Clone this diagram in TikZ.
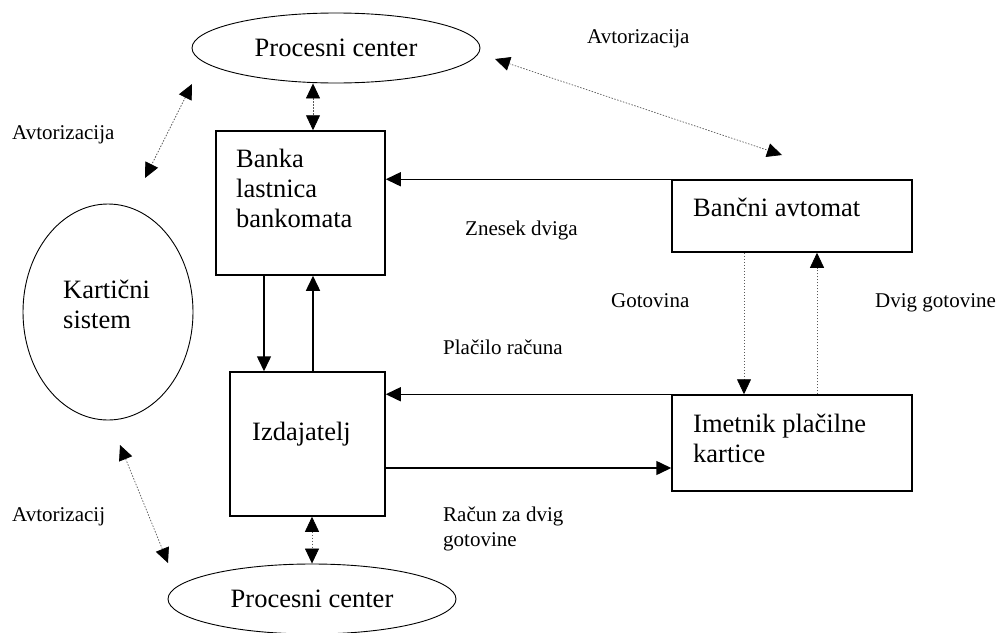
\documentclass[tikz,border=0pt]{standalone}
\usepackage{fontspec}
\setmainfont{Liberation Serif}
\usetikzlibrary{arrows.meta,shapes.geometric}
\begin{document}
\begin{tikzpicture}[x=1pt,y=-1pt,
  >={Triangle[length=15pt,width=14pt,black]},
  boxtxt/.style={font=\fontsize{26.5pt}{30pt}\selectfont, inner sep=0pt, anchor=base west},
  lbl/.style={font=\fontsize{21pt}{25pt}\selectfont, inner sep=0pt, anchor=base west},
  boxn/.style={draw, rectangle, line width=1.5pt, inner sep=0pt},
  ell/.style={draw, ellipse, line width=0.9pt, inner sep=0pt, font=\fontsize{26.5pt}{30pt}\selectfont},
  solidarr/.style={line width=1.5pt},
  dotarr/.style={draw=black!65, line width=0.7pt, dash pattern=on 1.5pt off 1.5pt}]
\useasboundingbox (0,0) rectangle (998,632);

% shapes
\node[ell, minimum width=288pt, minimum height=70pt] (pctop) at (336,48) {Procesni center};
\node[ell, minimum width=288pt, minimum height=70pt] (pcbot) at (312,599) {Procesni center};
\node[ell, minimum width=170pt, minimum height=216pt] (kart) at (108,312) {};
\node[boxn, minimum width=169pt, minimum height=144pt] (banka) at (300.5,203) {};
\node[boxn, minimum width=155pt, minimum height=144pt] (izd) at (307.5,444) {};
\node[boxn, minimum width=240pt, minimum height=72pt] (bancni) at (792,216) {};
\node[boxn, minimum width=240pt, minimum height=96pt] (imet) at (792,443) {};

% texts in shapes
\node[boxtxt] (kt1) at (63,298) {Kartični};
\node[boxtxt] (kt2) at (63,328) {sistem};
\node[boxtxt] (bt1) at (236,167) {Banka};
\node[boxtxt] (bt2) at (236,197) {lastnica};
\node[boxtxt] (bt3) at (236,227) {bankomata};
\node[boxtxt] (it1) at (252,440) {Izdajatelj};
\node[boxtxt] (at1) at (693,216) {Bančni avtomat};
\node[boxtxt] (mt1) at (693,432) {Imetnik plačilne};
\node[boxtxt] (mt2) at (693,462) {kartice};

% labels
\node[lbl] (l1) at (587,43) {Avtorizacija};
\node[lbl] (l2) at (12,139) {Avtorizacija};
\node[lbl] (l3) at (12,521) {Avtorizacij};
\node[lbl] (l4) at (465,235) {Znesek dviga};
\node[lbl] (l5) at (611,307) {Gotovina};
\node[lbl] (l6) at (875,307) {Dvig gotovine};
\node[lbl] (l7) at (443,354) {Plačilo računa};
\node[lbl] (l8) at (443,521) {Račun za dvig};
\node[lbl] (l9) at (443,546) {gotovine};

% free ends
\coordinate (a1) at (495,59);
\coordinate (a2) at (782,155);
\coordinate (b1) at (192,84);
\coordinate (b2) at (145,178);
\coordinate (c1) at (120,445);
\coordinate (c2) at (168,563);

% connectors
\draw[dotarr,<->] (pctop.south -| 313,0) -- (banka.north -| 313,0);
\draw[dotarr,<->] (izd.south -| pcbot.north) -- (pcbot.north);
\draw[solidarr,->] (banka.south -| 264,0) -- (izd.north -| 264,0);
\draw[solidarr,->] (izd.north -| 313,0) -- (banka.south -| 313,0);
\draw[solidarr,->] (bancni.north west) -- (bancni.north west -| banka.east);
\draw[solidarr,->] (imet.north west) -- (imet.north west -| izd.east);
\draw[solidarr,->] (izd.east |- 0,468) -- (imet.west |- 0,468);
\draw[dotarr,->] (bancni.south -| 744,0) -- (imet.north -| 744,0);
\draw[dotarr,->] (imet.north -| 817,0) -- (bancni.south -| 817,0);
\draw[dotarr,<->] (a1) -- (a2);
\draw[dotarr,<->] (b1) -- (b2);
\draw[dotarr,<->] (c1) -- (c2);
\end{tikzpicture}
\end{document}
